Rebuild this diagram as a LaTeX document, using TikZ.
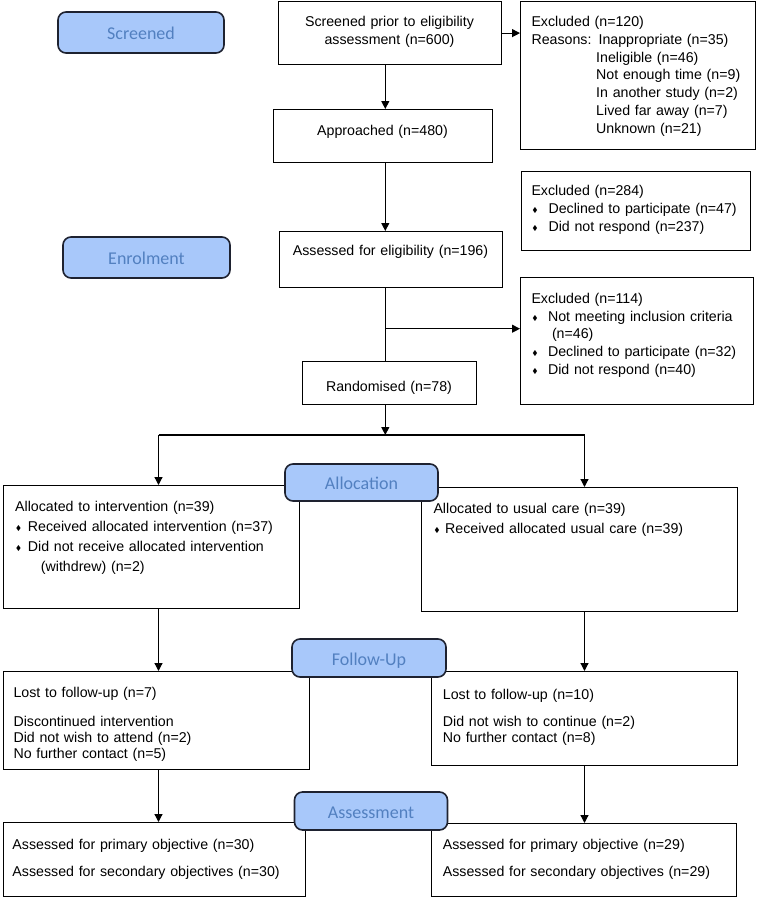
\documentclass[tikz,border=0pt]{standalone}
\usepackage{fontspec}
\usepackage{amssymb}
\setmainfont{Liberation Sans}
\newfontfamily\pillfont{Carlito}
\usetikzlibrary{arrows.meta,positioning}
\definecolor{pillfill}{RGB}{168,200,250}
\definecolor{pilltext}{RGB}{82,128,192}
\definecolor{pillline}{RGB}{30,34,48}
\newcommand{\bul}[1][13pt]{\makebox[#1][l]{\hspace{0.8pt}\raisebox{0.8pt}{\fontsize{7}{7}\selectfont$\blacklozenge$}}}
\begin{document}
\begin{tikzpicture}[x=1pt,y=-1pt,
  box/.style={draw,line width=1.2pt,anchor=north west,inner sep=0pt},
  txt/.style={inner sep=0pt,anchor=base west,align=left,text width=#1,font=\fontsize{14.2}{17.8}\selectfont},
  txt/.default=300pt,
  mid/.style={txt=#1,anchor=base,align=center},
  pill/.style={draw=pillline,line width=1.6pt,fill=pillfill,rounded corners=8pt,text=pilltext,
    text height=14pt,text depth=0pt,font=\pillfont\fontsize{18}{18}\selectfont},
  arr/.style={line width=1.2pt,-{Triangle[length=8pt,width=8pt]}},
  line/.style={line width=1.2pt}]
\useasboundingbox (0,0) rectangle (756,898);
% boxes, top left corner at the coordinate
\node[box,minimum width=223pt,minimum height=63pt] (scr) at (278,1) {};
\node[box,minimum width=219pt,minimum height=53pt] (appr) at (273,109) {};
\node[box,minimum width=223pt,minimum height=56pt] (elig) at (279,231) {};
\node[box,minimum width=174pt,minimum height=43pt] (rand) at (302,361) {};
\node[box,minimum width=235pt,minimum height=148pt] (exA) at (520,1) {};
\node[box,minimum width=229pt,minimum height=79pt] (exB) at (521,171) {};
\node[box,minimum width=233pt,minimum height=127pt] (exC) at (520,277) {};
\node[box,minimum width=296pt,minimum height=123pt] (alL) at (3,485) {};
\node[box,minimum width=316pt,minimum height=124pt] (alR) at (421,487) {};
\node[box,minimum width=306pt,minimum height=98pt] (fuL) at (3,671) {};
\node[box,minimum width=306pt,minimum height=94pt] (fuR) at (431,671) {};
\node[box,minimum width=302pt,minimum height=74pt] (asL) at (3,822) {};
\node[box,minimum width=305pt,minimum height=73pt] (asR) at (431,823) {};
% texts, at the first baseline
\node[mid=223pt] (scr-t) at (389.5,26.5) {Screened prior to eligibility\\assessment (n=600)};
\node[mid=219pt] (appr-t) at (382.5,135) {Approached (n=480)};
\node[mid=223pt] (elig-t) at (390.5,255.5) {Assessed for eligibility (n=196)};
\node[mid=174pt] (rand-t) at (389,391.5) {Randomised (n=78)};
\node[txt=222pt] (exA-t) at (531.3,26.5) {Excluded (n=120)\\
  Reasons: Inappropriate (n=35)\\
  \phantom{Reasons:\ }Ineligible (n=46)\\
  \phantom{Reasons:\ }Not enough time (n=9)\\
  \phantom{Reasons:\ }In another study (n=2)\\
  \phantom{Reasons:\ }Lived far away (n=7)\\
  \phantom{Reasons:\ }Unknown (n=21)};
\node[txt=216pt] (exB-t) at (531.3,195.8) {Excluded (n=284)\\
  \bul[17pt]Declined to participate (n=47)\\
  \bul[17pt]Did not respond (n=237)};
\node[txt=220pt] (exC-t) at (531.3,303.2) {Excluded (n=114)\\
  \bul[16.5pt]Not meeting inclusion criteria\\
  \hspace*{20.5pt}(n=46)\\
  \bul[16.5pt]Declined to participate (n=32)\\
  \bul[16.5pt]Did not respond (n=40)};
\node[txt=285pt,font=\fontsize{14.2}{20}\selectfont] (alL-t) at (15,511.5) {Allocated to intervention (n=39)\\
  \bul[12.7pt]Received allocated intervention (n=37)\\
  \bul[12.7pt]Did not receive allocated intervention\\
  \hspace*{25.7pt}(withdrew) (n=2)};
\node[txt=300pt,font=\fontsize{14.2}{20}\selectfont] (alR-t) at (433.3,513.2) {Allocated to usual care (n=39)\\
  \bul[11.7pt]Received allocated usual care (n=39)};
\node[txt=290pt,font=\fontsize{14.2}{16}\selectfont] (fuL-t) at (13.3,697.5) {Lost to follow-up (n=7)\\[13pt]
  Discontinued intervention\\
  Did not wish to attend (n=2)\\
  No further contact (n=5)};
\node[txt=290pt,font=\fontsize{14.2}{16}\selectfont] (fuR-t) at (442.7,699.2) {Lost to follow-up (n=10)\\[11.3pt]
  Did not wish to continue (n=2)\\
  No further contact (n=8)};
\node[txt=290pt,font=\fontsize{14.2}{16}\selectfont] (asL-t) at (12.3,849.8) {Assessed for primary objective (n=30)\\[10.7pt]
  Assessed for secondary objectives (n=30)};
\node[txt=290pt,font=\fontsize{14.2}{16}\selectfont] (asR-t) at (442.7,849.8) {Assessed for primary objective (n=29)\\[10.7pt]
  Assessed for secondary objectives (n=29)};
% connectors
\coordinate (spine) at (385.3,0);
\coordinate (colL) at (158.5,0);
\coordinate (colR) at (584.5,0);
\coordinate (split) at (0,435);
\coordinate (branch) at (385.3,328.7);
\draw[arr] (scr.east) -- (scr.east -| exA.west);
\draw[arr] (scr.south -| spine) -- (appr.north -| spine);
\draw[arr] (appr.south -| spine) -- (elig.north -| spine);
\draw[line] (elig.south -| spine) -- (rand.north -| spine);
\draw[arr] (branch) -- (branch -| exC.west);
\draw[arr] (rand.south -| spine) -- (spine |- split);
\draw[line] (colL |- split) -- (colR |- split);
\draw[arr] (colL |- split) -- (alL.north -| colL);
\draw[arr] (colR |- split) -- (alR.north -| colR);
\draw[arr] (alL.south -| colL) -- (fuL.north -| colL);
\draw[arr] (alR.south -| colR) -- (fuR.north -| colR);
\draw[arr] (fuL.south -| colL) -- (asL.north -| colL);
\draw[arr] (fuR.south -| colR) -- (asR.north -| colR);
% stage labels, drawn last so they sit on the boxes
\foreach \n/\px/\py/\w/\h/\t in {scrP/141/32.5/166/41/Screened,enrP/146.5/257.5/167/41/Enrolment,
  allP/361.5/482.5/153/37/Allocation,fuP/369/658/154/38/Follow-Up,asP/371/811/153/38/Assessment}
  \node[pill,minimum width=\w pt,minimum height=\h pt] (\n) at (\px,\py) {\t};
\end{tikzpicture}
\end{document}
